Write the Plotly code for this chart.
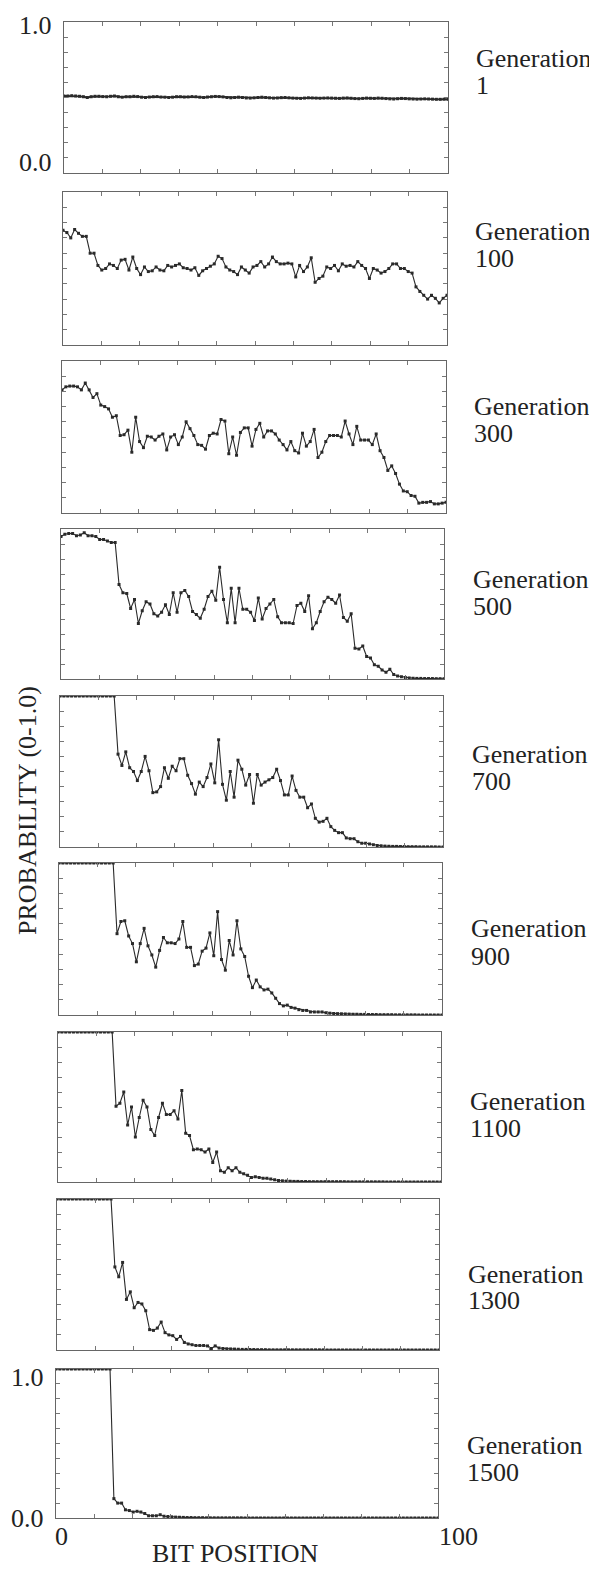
import plotly.graph_objects as go

# ---------------- data ----------------
generations = ["1", "100", "300", "500", "700", "900", "1100", "1300", "1500"]
n_bits = 100
bit_positions = [i * 100 / (n_bits - 1) for i in range(n_bits)]

gen1 = [0.51, 0.51, 0.512, 0.51, 0.508, 0.505, 0.5, 0.505, 0.508, 0.508,
        0.506, 0.505, 0.508, 0.51, 0.505, 0.502, 0.505, 0.505, 0.508, 0.506,
        0.502, 0.5, 0.503, 0.505, 0.506, 0.503, 0.502, 0.5, 0.502, 0.505,
        0.505, 0.503, 0.504, 0.506, 0.505, 0.502, 0.5, 0.503, 0.505, 0.507,
        0.506, 0.504, 0.5, 0.498, 0.5, 0.502, 0.5, 0.497, 0.496, 0.498,
        0.5, 0.502, 0.5, 0.498, 0.496, 0.497, 0.499, 0.5, 0.498, 0.496,
        0.495, 0.494, 0.496, 0.498, 0.497, 0.496, 0.495, 0.496, 0.497, 0.496,
        0.495, 0.494, 0.496, 0.497, 0.495, 0.493, 0.492, 0.494, 0.496, 0.495,
        0.494, 0.496, 0.495, 0.493, 0.491, 0.49, 0.492, 0.494, 0.493, 0.491,
        0.49, 0.489, 0.49, 0.491, 0.49, 0.489, 0.488, 0.488, 0.489, 0.488]

gen100 = [0.75, 0.735, 0.70, 0.755, 0.73, 0.71, 0.71, 0.60, 0.60, 0.52,
          0.49, 0.50, 0.53, 0.52, 0.50, 0.555, 0.56, 0.49, 0.575, 0.50,
          0.46, 0.51, 0.48, 0.485, 0.51, 0.49, 0.485, 0.52, 0.51, 0.52,
          0.53, 0.505, 0.50, 0.49, 0.505, 0.455, 0.485, 0.50, 0.515, 0.53,
          0.58, 0.565, 0.51, 0.49, 0.48, 0.46, 0.51, 0.49, 0.47, 0.51,
          0.52, 0.545, 0.51, 0.53, 0.575, 0.545, 0.53, 0.53, 0.535, 0.53,
          0.445, 0.52, 0.48, 0.51, 0.57, 0.41, 0.435, 0.45, 0.51, 0.50,
          0.52, 0.485, 0.53, 0.515, 0.52, 0.51, 0.545, 0.52, 0.50, 0.435,
          0.50, 0.49, 0.47, 0.48, 0.50, 0.53, 0.53, 0.50, 0.50, 0.48,
          0.47, 0.38, 0.35, 0.325, 0.30, 0.325, 0.305, 0.275, 0.305, 0.325]

gen300 = [0.81, 0.83, 0.835, 0.835, 0.83, 0.81, 0.855, 0.81, 0.76, 0.785,
          0.71, 0.70, 0.685, 0.63, 0.64, 0.51, 0.515, 0.545, 0.40, 0.63,
          0.47, 0.43, 0.505, 0.50, 0.48, 0.505, 0.52, 0.415, 0.50, 0.515,
          0.45, 0.50, 0.60, 0.555, 0.51, 0.45, 0.445, 0.42, 0.51, 0.525,
          0.52, 0.615, 0.605, 0.39, 0.50, 0.38, 0.53, 0.56, 0.56, 0.44,
          0.55, 0.59, 0.50, 0.54, 0.54, 0.52, 0.48, 0.45, 0.415, 0.47,
          0.41, 0.395, 0.525, 0.44, 0.47, 0.55, 0.365, 0.40, 0.47, 0.51,
          0.51, 0.51, 0.50, 0.605, 0.52, 0.45, 0.57, 0.48, 0.48, 0.48,
          0.45, 0.52, 0.41, 0.365, 0.28, 0.31, 0.26, 0.19, 0.145, 0.14,
          0.115, 0.11, 0.065, 0.07, 0.07, 0.075, 0.06, 0.06, 0.065, 0.07]

gen500 = [0.95, 0.965, 0.97, 0.97, 0.955, 0.96, 0.975, 0.955, 0.955, 0.95,
          0.93, 0.93, 0.92, 0.91, 0.91, 0.63, 0.575, 0.57, 0.47, 0.53,
          0.37, 0.455, 0.515, 0.50, 0.435, 0.42, 0.445, 0.495, 0.43, 0.575,
          0.445, 0.575, 0.59, 0.55, 0.45, 0.43, 0.405, 0.465, 0.55, 0.585,
          0.525, 0.745, 0.53, 0.375, 0.605, 0.375, 0.605, 0.465, 0.465, 0.445,
          0.39, 0.54, 0.40, 0.47, 0.50, 0.53, 0.415, 0.375, 0.375, 0.375,
          0.37, 0.49, 0.505, 0.45, 0.555, 0.335, 0.375, 0.45, 0.515, 0.545,
          0.53, 0.505, 0.56, 0.41, 0.385, 0.435, 0.205, 0.20, 0.22, 0.15,
          0.14, 0.095, 0.085, 0.06, 0.045, 0.065, 0.03, 0.02, 0.015, 0.01,
          0.007, 0.005, 0.004, 0.004, 0.003, 0.003, 0.003, 0.002, 0.002, 0.002]

gen700 = [1.0] * 15 + [
          0.615, 0.54, 0.63, 0.525, 0.50, 0.44, 0.50, 0.60, 0.505, 0.36,
          0.365, 0.40, 0.525, 0.455, 0.535, 0.505, 0.585, 0.585, 0.475, 0.42,
          0.35, 0.43, 0.40, 0.46, 0.55, 0.425, 0.71, 0.415, 0.31, 0.50,
          0.33, 0.575, 0.515, 0.41, 0.48, 0.29, 0.48, 0.41, 0.43, 0.445,
          0.46, 0.515, 0.44, 0.345, 0.345, 0.47, 0.375, 0.33, 0.33, 0.26,
          0.285, 0.19, 0.165, 0.17, 0.19, 0.135, 0.11, 0.095, 0.095, 0.06,
          0.055, 0.055, 0.035, 0.025, 0.025, 0.02, 0.015, 0.01, 0.008, 0.006,
          0.005, 0.004, 0.004, 0.003, 0.003, 0.002, 0.002, 0.002, 0.001, 0.001,
          0.001, 0.001, 0.001, 0.0, 0.0]

gen900 = [1.0] * 15 + [
          0.535, 0.615, 0.62, 0.52, 0.47, 0.35, 0.47, 0.57, 0.455, 0.395,
          0.315, 0.425, 0.51, 0.475, 0.475, 0.47, 0.50, 0.615, 0.445, 0.445,
          0.325, 0.335, 0.42, 0.44, 0.54, 0.39, 0.68, 0.365, 0.295, 0.49,
          0.395, 0.62, 0.435, 0.385, 0.255, 0.18, 0.23, 0.185, 0.165, 0.17,
          0.145, 0.11, 0.075, 0.06, 0.065, 0.05, 0.045, 0.035, 0.03, 0.03,
          0.02, 0.02, 0.02, 0.02, 0.015, 0.012, 0.01, 0.009, 0.008, 0.007,
          0.006, 0.005, 0.005, 0.004, 0.004, 0.003, 0.003, 0.003, 0.002, 0.002,
          0.002, 0.002, 0.001, 0.001, 0.001, 0.001, 0.001, 0.001, 0.0, 0.0,
          0.0, 0.0, 0.0, 0.0, 0.0]

gen1100 = [1.0] * 15 + [
          0.505, 0.525, 0.60, 0.38, 0.50, 0.30, 0.43, 0.545, 0.50, 0.35,
          0.31, 0.43, 0.525, 0.45, 0.45, 0.475, 0.42, 0.61, 0.325, 0.31,
          0.215, 0.22, 0.215, 0.20, 0.22, 0.13, 0.20, 0.075, 0.065, 0.095,
          0.075, 0.095, 0.065, 0.055, 0.045, 0.03, 0.035, 0.03, 0.025, 0.025,
          0.02, 0.015, 0.01, 0.008, 0.006, 0.005, 0.004, 0.004, 0.003, 0.003] \
          + [0.002] * 10 + [0.001] * 10 + [0.0] * 15

gen1300 = [1.0] * 15 + [
          0.55, 0.485, 0.58, 0.335, 0.385, 0.28, 0.315, 0.305, 0.26, 0.135,
          0.13, 0.145, 0.185, 0.115, 0.10, 0.095, 0.07, 0.09, 0.05, 0.04,
          0.035, 0.03, 0.03, 0.03, 0.027, 0.01, 0.027, 0.013, 0.01, 0.008,
          0.007, 0.006, 0.005, 0.004, 0.004, 0.003, 0.003, 0.002, 0.002, 0.002] \
          + [0.001] * 15 + [0.0] * 30

gen1500 = [1.0] * 15 + [
          0.13, 0.10, 0.10, 0.055, 0.05, 0.04, 0.045, 0.04, 0.03, 0.015,
          0.015, 0.015, 0.022, 0.012, 0.01, 0.008, 0.006, 0.005, 0.004, 0.003,
          0.003, 0.002, 0.002, 0.002] + [0.001] * 10 + [0.0] * 51

series = [gen1, gen100, gen300, gen500, gen700, gen900, gen1100, gen1300, gen1500]

x_ticks = list(range(0, 101, 10))
y_ticks = [round(v * 0.1, 1) for v in range(11)]

# ---------------- layout geometry (page pixels) ----------------
PAGE_W, PAGE_H = 597, 1570
BODY_MARGIN = 8                      # default page margin around the plot div
W, H = PAGE_W - BODY_MARGIN, PAGE_H - BODY_MARGIN


def px(xp):
    return (xp - BODY_MARGIN) / W


def py(yp):
    return 1 - (yp - BODY_MARGIN) / H


panel_tops = [22, 192, 361, 529, 696, 863, 1032, 1199, 1369]
panel_bottoms = [173, 345, 513, 679, 847, 1015, 1182, 1350, 1518]
panel_lefts = [64, 63, 62, 61, 60, 59, 58, 57, 56]
panel_rights = [448, 447, 446, 444, 443, 442, 441, 439, 438]
label_x = [474, 473, 472, 471, 470, 469, 468, 466, 465]
label_gen_y = [58, 231, 406, 580, 754, 928, 1101, 1274, 1445]
label_num_y = [85, 258, 433, 607, 781, 956, 1128, 1300, 1472]

FONT = "Liberation Serif"
INK = "#2a2a2a"
FRAME = "#666666"

fig = go.Figure()
layout = dict(
    width=W, height=H,
    margin=dict(l=0, r=0, t=0, b=0),
    paper_bgcolor="white", plot_bgcolor="white",
    showlegend=False,
    font=dict(family=FONT, size=26, color="#222222"),
)

annotations = []
for i, vals in enumerate(series):
    k = "" if i == 0 else str(i + 1)
    fig.add_trace(go.Scatter(
        x=bit_positions, y=vals, xaxis="x" + k, yaxis="y" + k,
        mode="lines+markers",
        line=dict(color=INK, width=1.8 if i == 0 else 1.1),
        marker=dict(symbol="square", size=3, color=INK),
        hoverinfo="skip",
    ))
    axis_common = dict(
        showgrid=False, zeroline=False, showticklabels=False,
        ticks="inside", ticklen=4, tickwidth=1, tickcolor="#777777",
        showline=True, linecolor=FRAME, linewidth=1.3, mirror="ticks",
    )
    layout["xaxis" + k] = dict(
        domain=[px(panel_lefts[i]), px(panel_rights[i])],
        range=[0, 100], tickvals=x_ticks, anchor="y" + k, **axis_common)
    layout["yaxis" + k] = dict(
        domain=[py(panel_bottoms[i]), py(panel_tops[i])],
        range=[0, 1], tickvals=y_ticks, anchor="x" + k, **axis_common)

    annotations.append(dict(text="Generation", xref="paper", yref="paper",
                            x=px(label_x[i]), y=py(label_gen_y[i]),
                            xanchor="left", yanchor="middle", showarrow=False))
    annotations.append(dict(text=generations[i], xref="paper", yref="paper",
                            x=px(label_x[i]), y=py(label_num_y[i]),
                            xanchor="left", yanchor="middle", showarrow=False))

# y tick labels on first and last panel
for k, top_shift, bot_shift in [("", -4, 10), ("9", -8, 0)]:
    annotations.append(dict(text="1.0", xref="x" + k + " domain", yref="y" + k,
                            x=0, y=1.0, xanchor="right", yanchor="middle",
                            xshift=-10, yshift=top_shift, showarrow=False))
    annotations.append(dict(text="0.0", xref="x" + k + " domain", yref="y" + k,
                            x=0, y=0.0, xanchor="right", yanchor="middle",
                            xshift=-10, yshift=bot_shift, showarrow=False))

# x tick labels on last panel
annotations.append(dict(text="0", xref="x9", yref="y9 domain", x=0, y=0,
                        xanchor="left", yanchor="middle", xshift=-3, yshift=-18,
                        showarrow=False))
annotations.append(dict(text="100", xref="x9", yref="y9 domain", x=100, y=0,
                        xanchor="left", yanchor="middle", xshift=-1, yshift=-18,
                        showarrow=False))

# axis titles
annotations.append(dict(text="BIT POSITION", xref="paper", yref="paper",
                        x=px(150), y=0, xanchor="left", yanchor="bottom",
                        showarrow=False))
annotations.append(dict(text="PROBABILITY (0-1.0)", xref="paper", yref="paper",
                        x=px(27), y=py(811), xanchor="center", yanchor="middle",
                        textangle=-90, showarrow=False))

layout["annotations"] = annotations
fig.update_layout(**layout)
fig.write_html("out.html")
